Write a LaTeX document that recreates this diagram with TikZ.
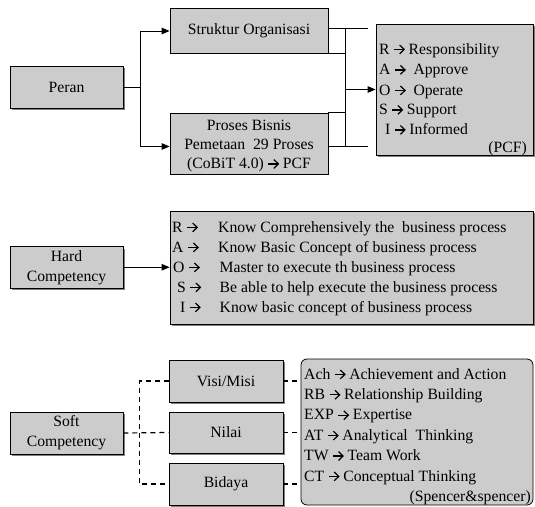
\documentclass[tikz,border=0pt]{standalone}
\usepackage{fontspec}
\setmainfont{Liberation Serif}
\usetikzlibrary{arrows.meta,shadows}
\definecolor{boxgray}{RGB}{204,204,204}
\definecolor{shadowgray}{RGB}{128,128,128}
\newcommand{\arw}{\tikz[baseline=0pt,x=1pt,y=1pt]{\draw[black,line width=1.2pt,line cap=butt,solid] (0,4.6) -- (9.6,4.6); \draw[black,line width=1.2pt,line join=miter,solid] (5.4,0.2) -- (10,4.6) -- (5.4,9.0);}}
\begin{document}
\begin{tikzpicture}[x=1pt,y=-1pt,font=\fontsize{15.7}{20}\selectfont,
  box/.style={draw=black, line width=0.8pt, fill=boxgray, inner sep=0pt},
  shbox/.style={box, drop shadow={shadow xshift=2pt, shadow yshift=-2pt, fill=shadowgray, opacity=1}},
  conn/.style={line width=1pt},
  arr/.style={conn, -{Triangle[length=8pt,width=6.5pt]}},
  dsh/.style={line width=1.2pt, dash pattern=on 5pt off 4pt},
  txt/.style={anchor=base west, inner sep=0pt},
  txtr/.style={anchor=base east, inner sep=0pt}]
\useasboundingbox (0,0) rectangle (535,506);
\fill[white] (0,0) rectangle (535,506);

% ---------- top: Peran ----------
\node[shbox, minimum width=113pt, minimum height=42pt] (peran) at (66.5,87) {Peran};
\node[box, minimum width=158pt, minimum height=45pt] (struktur) at (249,31) {Struktur Organisasi};
\node[box, minimum width=158pt, minimum height=61pt] (proses) at (249,143.5) {};
\node[align=center, inner sep=0pt, font=\fontsize{15.7}{19}\selectfont] (prosestxt) at (249,146) {Proses Bisnis\\Pemetaan~ 29 Proses\\(CoBiT 4.0) \arw{} PCF};
\node[shbox, minimum width=157pt, minimum height=131pt] (raosi) at (454.5,89.5) {};
\node[txt] (r1) at (379,54) {R \arw{} Responsibility};
\node[txt] (r2) at (379,74.5) {A \arw{}~ Approve};
\node[txt] (r3) at (379,95) {O \arw{}~ Operate};
\node[txt] (r4) at (379,114.5) {S \arw{} Support};
\node[txt] (r5) at (385,134.5) {I \arw{} Informed};
\node[txtr] (r6) at (527,152.5) {(PCF)};

\draw[arr] (peran.east) -- ++(17.5,0) coordinate (pj) |- (struktur.west);
\draw[arr] (pj) |- ([yshift=-3pt]proses.west);

\coordinate (e1) at (368,28.3);
\coordinate (e2) at (368,146.5);
\coordinate (v1) at (345,28.3);
\coordinate (v2) at (345,146.5);
\draw[conn] (struktur.east |- e1) -- (e1);
\draw[conn] (struktur.south east) -- (v1 |- struktur.south east);
\draw[conn] (proses.north east) -- (v1 |- proses.north east);
\draw[conn] (proses.east |- e2) -- (e2);
\draw[conn] (v1) -- (v2);
\draw[arr] (v1 |- raosi.west) -- (raosi.west);

% ---------- middle: Hard Competency ----------
\node[shbox, minimum width=113pt, minimum height=41.5pt, align=center] (hard) at (66.5,267.25) {Hard\\Competency};
\node[shbox, minimum width=363pt, minimum height=113pt] (big) at (351.5,267.5) {};
\draw[arr] (hard.east) -- (hard.east -| big.west);
\node[txt] (h1a) at (172,232) {R \arw};
\node[txt] (h1b) at (218,232) {Know Comprehensively the~ business process};
\node[txt] (h2a) at (172,252) {A \arw};
\node[txt] (h2b) at (218,252) {Know Basic Concept of business process};
\node[txt] (h3a) at (173,272) {O \arw};
\node[txt] (h3b) at (219.5,272) {Master to execute th business process};
\node[txt] (h4a) at (177,292) {S \arw};
\node[txt] (h4b) at (219.5,292) {Be able to help execute the business process};
\node[txt] (h5a) at (180,312) {I \arw};
\node[txt] (h5b) at (219.5,312) {Know basic concept of business process};

% ---------- bottom: Soft Competency ----------
\node[shbox, minimum width=113pt, minimum height=42pt, align=center] (soft) at (66.5,433) {Soft\\Competency};
\node[shbox, minimum width=114pt, minimum height=42pt] (visi) at (226,381) {Visi/Misi};
\node[shbox, minimum width=114pt, minimum height=41pt] (nilai) at (226,432.5) {Nilai};
\node[shbox, minimum width=114pt, minimum height=42pt] (bidaya) at (226,484) {Bidaya};
\node[box, rounded corners=6pt, minimum width=232pt, minimum height=146pt] (spencer) at (417,432) {};
\node[txt] (s1) at (304,379) {Ach \arw{} Achievement and Action};
\node[txt] (s2) at (304,399.4) {RB \arw{} Relationship Building};
\node[txt] (s3) at (304,419.8) {EXP \arw{} Expertise};
\node[txt] (s4) at (304,440.2) {AT \arw{} Analytical~ Thinking};
\node[txt] (s5) at (304,460.6) {TW \arw{} Team Work};
\node[txt] (s6) at (304,481) {CT \arw{} Conceptual Thinking};
\node[txtr] (s7) at (531,501.4) {(Spencer\&spencer)};

\draw[dsh] (soft.east) -- (nilai.west);
\draw[dsh] (visi.west) -- ++(-29.5,0) |- (bidaya.west);
\draw[dsh] (visi.east) -- (visi.east -| spencer.west);
\draw[dsh] (nilai.east) -- (nilai.east -| spencer.west);
\draw[dsh] (bidaya.east) -- (bidaya.east -| spencer.west);
\end{tikzpicture}
\end{document}
